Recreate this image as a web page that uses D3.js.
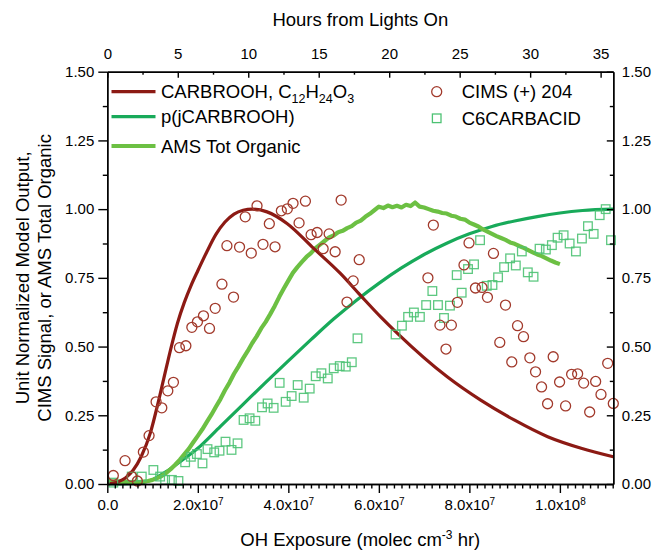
<!DOCTYPE html>
<html>
<head>
<meta charset="utf-8">
<script src="https://cdn.jsdelivr.net/npm/d3@7"></script>
<style>
  body { margin: 0; background: #fff; }
  svg text { font-family: "Liberation Sans", Arial, sans-serif; fill: #000; }
</style>
</head>
<body>
<svg id="chart" width="657" height="551"></svg>
<script>
// OH exposure values are stored in units of 1e7 molec cm^-3 hr.

// CARBROOH model (normalized)
const carbroohExposure = [0, 0.24, 0.4, 0.57, 0.75, 0.95, 1.1, 1.25, 1.4, 1.55, 1.7, 1.85, 2.0, 2.2, 2.4, 2.6, 2.8, 3.0, 3.2, 3.53, 3.97, 4.56, 5.15, 5.59, 6.04, 6.41, 7.51, 8.25, 8.99, 9.73, 10.47, 11.18];
const carbroohValues   = [0, 0.008, 0.022, 0.05, 0.1, 0.185, 0.28, 0.385, 0.49, 0.585, 0.66, 0.722, 0.776, 0.845, 0.908, 0.953, 0.982, 0.996, 1.0, 0.99, 0.948, 0.857, 0.766, 0.687, 0.608, 0.548, 0.39, 0.305, 0.233, 0.172, 0.13, 0.099];

// p(jCARBROOH) model (normalized)
const pjExposure = [0, 0.5, 0.8, 1.0, 1.3, 1.6, 2.0, 2.5, 3.0, 3.5, 4.0, 4.5, 5.0, 5.5, 6.0, 6.5, 7.0, 7.5, 8.0, 8.5, 9.0, 9.5, 10.0, 10.5, 11.18];
const pjValues   = [0, 0.001, 0.006, 0.016, 0.045, 0.08, 0.13, 0.21, 0.29, 0.37, 0.448, 0.525, 0.6, 0.668, 0.73, 0.786, 0.835, 0.876, 0.91, 0.937, 0.957, 0.973, 0.986, 0.995, 1.0];

// AMS total organic (normalized)
const amsExposure = [0.0, 0.1, 0.2, 0.3, 0.4, 0.5, 0.6, 0.7, 0.8, 0.9,
  1.0, 1.1, 1.2, 1.3, 1.4, 1.5, 1.6, 1.7, 1.8, 1.9,
  2.0, 2.1, 2.2, 2.3, 2.4, 2.5, 2.6, 2.7, 2.8, 2.9,
  3.0, 3.1, 3.2, 3.3, 3.4, 3.5, 3.6, 3.7, 3.8, 3.9,
  4.0, 4.1, 4.2, 4.3, 4.4, 4.5, 4.6, 4.7, 4.8, 4.9,
  5.0, 5.1, 5.2, 5.3, 5.4, 5.5, 5.6, 5.7, 5.8, 5.9,
  6.0, 6.1, 6.2, 6.3, 6.4, 6.5, 6.6, 6.7, 6.8, 6.9,
  7.0, 7.1, 7.2, 7.3, 7.4, 7.5, 7.6, 7.7, 7.8, 7.9,
  8.0, 8.1, 8.2, 8.3, 8.4, 8.5, 8.6, 8.7, 8.8, 8.9,
  9.0, 9.1, 9.2, 9.3, 9.4, 9.5, 9.6, 9.7, 9.8, 9.9, 10.0];
const amsValues = [0.010, 0.009, 0.010, 0.008, 0.009, 0.007, 0.008, 0.007, 0.009, 0.011,
  0.015, 0.021, 0.029, 0.040, 0.054, 0.070, 0.088, 0.108, 0.128, 0.152,
  0.175, 0.199, 0.226, 0.252, 0.281, 0.309, 0.341, 0.369, 0.401, 0.428,
  0.457, 0.483, 0.512, 0.537, 0.566, 0.590, 0.618, 0.648, 0.681, 0.711,
  0.740, 0.768, 0.789, 0.808, 0.826, 0.840, 0.858, 0.871, 0.884, 0.897,
  0.904, 0.916, 0.921, 0.931, 0.938, 0.951, 0.958, 0.972, 0.983, 0.996,
  1.009, 1.004, 1.013, 1.007, 1.012, 1.006, 1.016, 1.011, 1.024, 1.009,
  1.006, 1.000, 0.994, 0.991, 0.986, 0.984, 0.976, 0.973, 0.965, 0.962,
  0.951, 0.944, 0.937, 0.926, 0.918, 0.910, 0.902, 0.895, 0.888, 0.879,
  0.874, 0.866, 0.859, 0.851, 0.843, 0.835, 0.829, 0.821, 0.813, 0.806, 0.800];

// CIMS (+) 204 signal (normalized)
const cimsExposure = [0.133, 0.392, 0.540, 0.664, 0.797, 0.923, 1.078, 1.204, 1.337, 1.461,
  1.594, 1.736, 1.868, 1.992, 2.125, 2.258, 2.384, 2.533, 2.789, 2.643,
  2.922, 3.181, 3.440, 3.706, 3.048, 3.308, 3.580, 3.846, 3.978, 4.104,
  4.237, 4.377, 4.503, 4.636, 4.769, 4.901, 5.034, 5.167, 5.296, 5.433,
  5.566, 7.204, 7.992, 8.532, 7.881, 7.084, 8.134, 8.280, 8.399, 7.735,
  8.798, 7.350, 7.602, 7.483, 8.672, 9.064, 9.196, 8.937, 9.336, 9.462,
  9.595, 9.728, 9.852, 9.993, 10.126, 10.259, 10.392, 10.525, 10.658, 10.790,
  10.908, 11.056, 11.180];
const cimsValues = [0.031, 0.085, 0.027, 0.011, 0.116, 0.176, 0.299, 0.277, 0.339, 0.370,
  0.496, 0.503, 0.570, 0.590, 0.612, 0.566, 0.639, 0.727, 0.680, 0.867,
  0.862, 0.840, 0.872, 0.863, 0.972, 1.012, 0.947, 0.994, 1.001, 1.021,
  0.950, 1.029, 0.907, 0.915, 0.856, 0.910, 0.845, 1.033, 0.662, 0.739,
  0.816, 0.942, 0.877, 0.839, 0.797, 0.750, 0.713, 0.715, 0.679, 0.661,
  0.651, 0.578, 0.578, 0.491, 0.515, 0.576, 0.536, 0.444, 0.459, 0.408,
  0.353, 0.292, 0.463, 0.371, 0.284, 0.399, 0.401, 0.367, 0.262, 0.373,
  0.326, 0.439, 0.293];

// C6CARBACID (normalized)
const c6Exposure = [0.133, 0.540, 0.762, 1.018, 1.167, 1.277, 1.426, 1.572, 1.720, 1.846,
  1.979, 2.103, 2.214, 2.362, 2.479, 2.612, 2.745, 2.878, 3.011, 3.144,
  3.270, 3.418, 3.542, 3.675, 3.808, 3.941, 4.073, 4.206, 4.339, 4.472,
  4.605, 4.731, 4.871, 5.003, 5.136, 5.269, 5.402, 5.528, 6.369, 6.509,
  6.646, 6.774, 6.907, 7.045, 7.306, 7.439, 7.571, 7.182, 7.830, 7.720,
  7.970, 8.103, 8.236, 8.384, 8.510, 8.634, 8.767, 8.900, 9.026, 9.159,
  9.291, 9.418, 9.551, 9.690, 9.823, 9.949, 10.082, 10.215, 10.354, 10.487,
  10.620, 10.746, 10.879, 11.012, 11.129];
const c6Values = [0.005, 0.027, 0.027, 0.051, 0.027, 0.015, 0.015, 0.011, 0.079, 0.099,
  0.109, 0.075, 0.127, 0.115, 0.121, 0.154, 0.124, 0.148, 0.233, 0.239,
  0.230, 0.279, 0.293, 0.277, 0.368, 0.299, 0.320, 0.360, 0.314, 0.347,
  0.392, 0.403, 0.384, 0.421, 0.429, 0.427, 0.443, 0.530, 0.544, 0.576,
  0.608, 0.624, 0.608, 0.651, 0.651, 0.604, 0.649, 0.702, 0.696, 0.760,
  0.782, 0.799, 0.887, 0.721, 0.724, 0.752, 0.789, 0.821, 0.795, 0.846,
  0.770, 0.754, 0.856, 0.853, 0.869, 0.896, 0.905, 0.875, 0.846, 0.893,
  0.938, 0.910, 0.978, 1.000, 0.887];

// Axis ticks and labels
const bottomTicks = [0, 2, 4, 6, 8, 10];
const bottomTickLabels = [["0.0", ""], ["2.0x10", "7"], ["4.0x10", "7"], ["6.0x10", "7"], ["8.0x10", "7"], ["1.0x10", "8"]];
const topTicks = [0, 5, 10, 15, 20, 25, 30, 35];
const yTicks = [0, 0.25, 0.5, 0.75, 1.0, 1.25, 1.5];

const colors = {
  carbrooh: "#8c1a14",
  pj: "#18aa5a",
  ams: "#6cc043",
  cims: "#a23a2c",
  c6: "#4dc273"
};

(function draw() {
  const svg = d3.select("#chart");
  const pL = 107.3, pR = 613.3, pT = 71.7, pB = 484;

  const x = d3.scaleLinear().domain([0, 11.18]).range([pL, pR]);
  const xTop = d3.scaleLinear().domain([0, 35.9]).range([pL, pR]);
  const y = d3.scaleLinear().domain([0, 1.5]).range([pB, pT]);

  const plot = svg.append("g");
  const lineGen = d3.line().x(d => x(d[0])).y(d => y(d[1])).curve(d3.curveMonotoneX);

  const pjPts = pjExposure.map((v, i) => [v, pjValues[i]]);
  const carbPts = carbroohExposure.map((v, i) => [v, carbroohValues[i]]);
  const amsPts = amsExposure.map((v, i) => [v, amsValues[i]]);

  plot.append("path").datum(pjPts)
    .attr("d", lineGen).attr("fill", "none")
    .attr("stroke", colors.pj).attr("stroke-width", 3.2);

  plot.append("path").datum(amsPts)
    .attr("d", d3.line().x(d => x(d[0])).y(d => y(d[1])))
    .attr("fill", "none").attr("stroke", colors.ams)
    .attr("stroke-width", 4.2).attr("stroke-linejoin", "round");

  plot.append("path").datum(carbPts)
    .attr("d", lineGen).attr("fill", "none")
    .attr("stroke", colors.carbrooh).attr("stroke-width", 3.2);

  const sq = 8.6;
  plot.append("g").selectAll("rect").data(c6Exposure.map((v, i) => [v, c6Values[i]]))
    .join("rect")
    .attr("x", d => x(d[0]) - sq / 2).attr("y", d => y(d[1]) - sq / 2)
    .attr("width", sq).attr("height", sq)
    .attr("fill", "none").attr("stroke", colors.c6).attr("stroke-width", 1.3)
    .attr("stroke-opacity", 0.9);

  plot.append("g").selectAll("circle").data(cimsExposure.map((v, i) => [v, cimsValues[i]]))
    .join("circle")
    .attr("cx", d => x(d[0])).attr("cy", d => y(d[1])).attr("r", 5)
    .attr("fill", "none").attr("stroke", colors.cims).attr("stroke-width", 1.3);

  function styleAxis(g) {
    g.selectAll("path, line").attr("stroke", "#000").attr("stroke-width", 1.4);
    g.selectAll("text").attr("font-size", 15).attr("fill", "#000")
      .attr("font-family", '"Liberation Sans", Arial, sans-serif');
  }

  const xMinorTicks = d3.range(0, 11.19, 2 / 12).filter(v => Math.abs(v / 2 - Math.round(v / 2)) > 1e-6);
  const yMinorTicks = d3.range(0.125, 1.5, 0.25);
  const topMinorTicks = d3.range(2.5, 35.9, 5);

  // bottom axis
  svg.append("g").attr("transform", `translate(0,${pB})`)
    .call(d3.axisBottom(x).tickValues(xMinorTicks).tickSize(4.5).tickFormat("").tickSizeOuter(0))
    .call(styleAxis);
  const bAxis = svg.append("g").attr("transform", `translate(0,${pB})`)
    .call(d3.axisBottom(x).tickValues(bottomTicks).tickSize(9).tickPadding(6.5).tickSizeOuter(0).tickFormat(""))
    .call(styleAxis);
  bAxis.selectAll(".tick").each(function (d, i) {
    const lab = bottomTickLabels[i];
    const t = d3.select(this).select("text");
    t.text(null).attr("dy", "0.71em");
    t.append("tspan").text(lab[0]);
    if (lab[1]) {
      t.append("tspan").attr("dy", "-0.55em").attr("font-size", 10).text(lab[1]);
    }
  });

  // top axis
  svg.append("g").attr("transform", `translate(0,${pT})`)
    .call(d3.axisTop(xTop).tickValues(topMinorTicks).tickSize(-3).tickFormat("").tickSizeOuter(0))
    .call(styleAxis);
  svg.append("g").attr("transform", `translate(0,${pT})`)
    .call(d3.axisTop(xTop).tickValues(topTicks).tickSize(-6).tickPadding(12.5).tickSizeOuter(0).tickFormat(d3.format("d")))
    .call(styleAxis);

  // left axis
  svg.append("g").attr("transform", `translate(${pL},0)`)
    .call(d3.axisLeft(y).tickValues(yMinorTicks).tickSize(4.5).tickFormat("").tickSizeOuter(0))
    .call(styleAxis);
  svg.append("g").attr("transform", `translate(${pL},0)`)
    .call(d3.axisLeft(y).tickValues(yTicks).tickSize(9).tickPadding(4).tickSizeOuter(0).tickFormat(d3.format(".2f")))
    .call(styleAxis);

  // right axis
  svg.append("g").attr("transform", `translate(${pR},0)`)
    .call(d3.axisRight(y).tickValues(yMinorTicks).tickSize(-3.5).tickFormat("").tickSizeOuter(0))
    .call(styleAxis);
  svg.append("g").attr("transform", `translate(${pR},0)`)
    .call(d3.axisRight(y).tickValues(yTicks).tickSize(-6.5).tickPadding(8.5).tickSizeOuter(0).tickFormat(d3.format(".2f")))
    .call(styleAxis);

  // axis titles
  const titleSize = 18.5;
  svg.append("text").attr("x", (pL + pR) / 2).attr("y", 26)
    .attr("text-anchor", "middle").attr("font-size", titleSize).text("Hours from Lights On");

  const xt = svg.append("text").attr("x", (pL + pR) / 2).attr("y", 546)
    .attr("text-anchor", "middle").attr("font-size", titleSize);
  xt.append("tspan").text("OH Exposure (molec cm");
  xt.append("tspan").attr("dy", -7).attr("font-size", 12).text("-3");
  xt.append("tspan").attr("dy", 7).text(" hr)");

  const yMid = (pT + pB) / 2;
  svg.append("text").attr("transform", `translate(29,${yMid}) rotate(-90)`)
    .attr("text-anchor", "middle").attr("font-size", titleSize).text("Unit Normalized Model Output,");
  svg.append("text").attr("transform", `translate(51,${yMid}) rotate(-90)`)
    .attr("text-anchor", "middle").attr("font-size", titleSize).text("CIMS Signal, or AMS Total Organic");

  // legend
  const legendSize = 18.5;
  const lineLegend = [
    { color: colors.carbrooh, y: 91.7, width: 3.2 },
    { color: colors.pj, y: 116.7, width: 3.2 },
    { color: colors.ams, y: 146, width: 4.2 }
  ];
  lineLegend.forEach(d => {
    svg.append("line").attr("x1", 111.5).attr("x2", 155.5).attr("y1", d.y).attr("y2", d.y)
      .attr("stroke", d.color).attr("stroke-width", d.width);
  });
  const l1 = svg.append("text").attr("x", 161).attr("y", 91.7 + 6.6).attr("font-size", legendSize);
  l1.append("tspan").text("CARBROOH, C");
  l1.append("tspan").attr("dy", 5).attr("font-size", 12.5).text("12");
  l1.append("tspan").attr("dy", -5).text("H");
  l1.append("tspan").attr("dy", 5).attr("font-size", 12.5).text("24");
  l1.append("tspan").attr("dy", -5).text("O");
  l1.append("tspan").attr("dy", 5).attr("font-size", 12.5).text("3");
  svg.append("text").attr("x", 161).attr("y", 116.7 + 6.6).attr("font-size", legendSize).text("p(jCARBROOH)");
  svg.append("text").attr("x", 161).attr("y", 146 + 6.6).attr("font-size", legendSize).text("AMS Tot Organic");

  svg.append("circle").attr("cx", 436.7).attr("cy", 91.7).attr("r", 5)
    .attr("fill", "none").attr("stroke", colors.cims).attr("stroke-width", 1.3);
  svg.append("rect").attr("x", 436.7 - sq / 2).attr("y", 118.3 - sq / 2).attr("width", sq).attr("height", sq)
    .attr("fill", "none").attr("stroke", colors.c6).attr("stroke-width", 1.3);
  svg.append("text").attr("x", 461.7).attr("y", 91.7 + 6.6).attr("font-size", legendSize).text("CIMS (+) 204");
  svg.append("text").attr("x", 461.7).attr("y", 118.3 + 6.6).attr("font-size", legendSize).text("C6CARBACID");
})();
</script>
</body>
</html>
